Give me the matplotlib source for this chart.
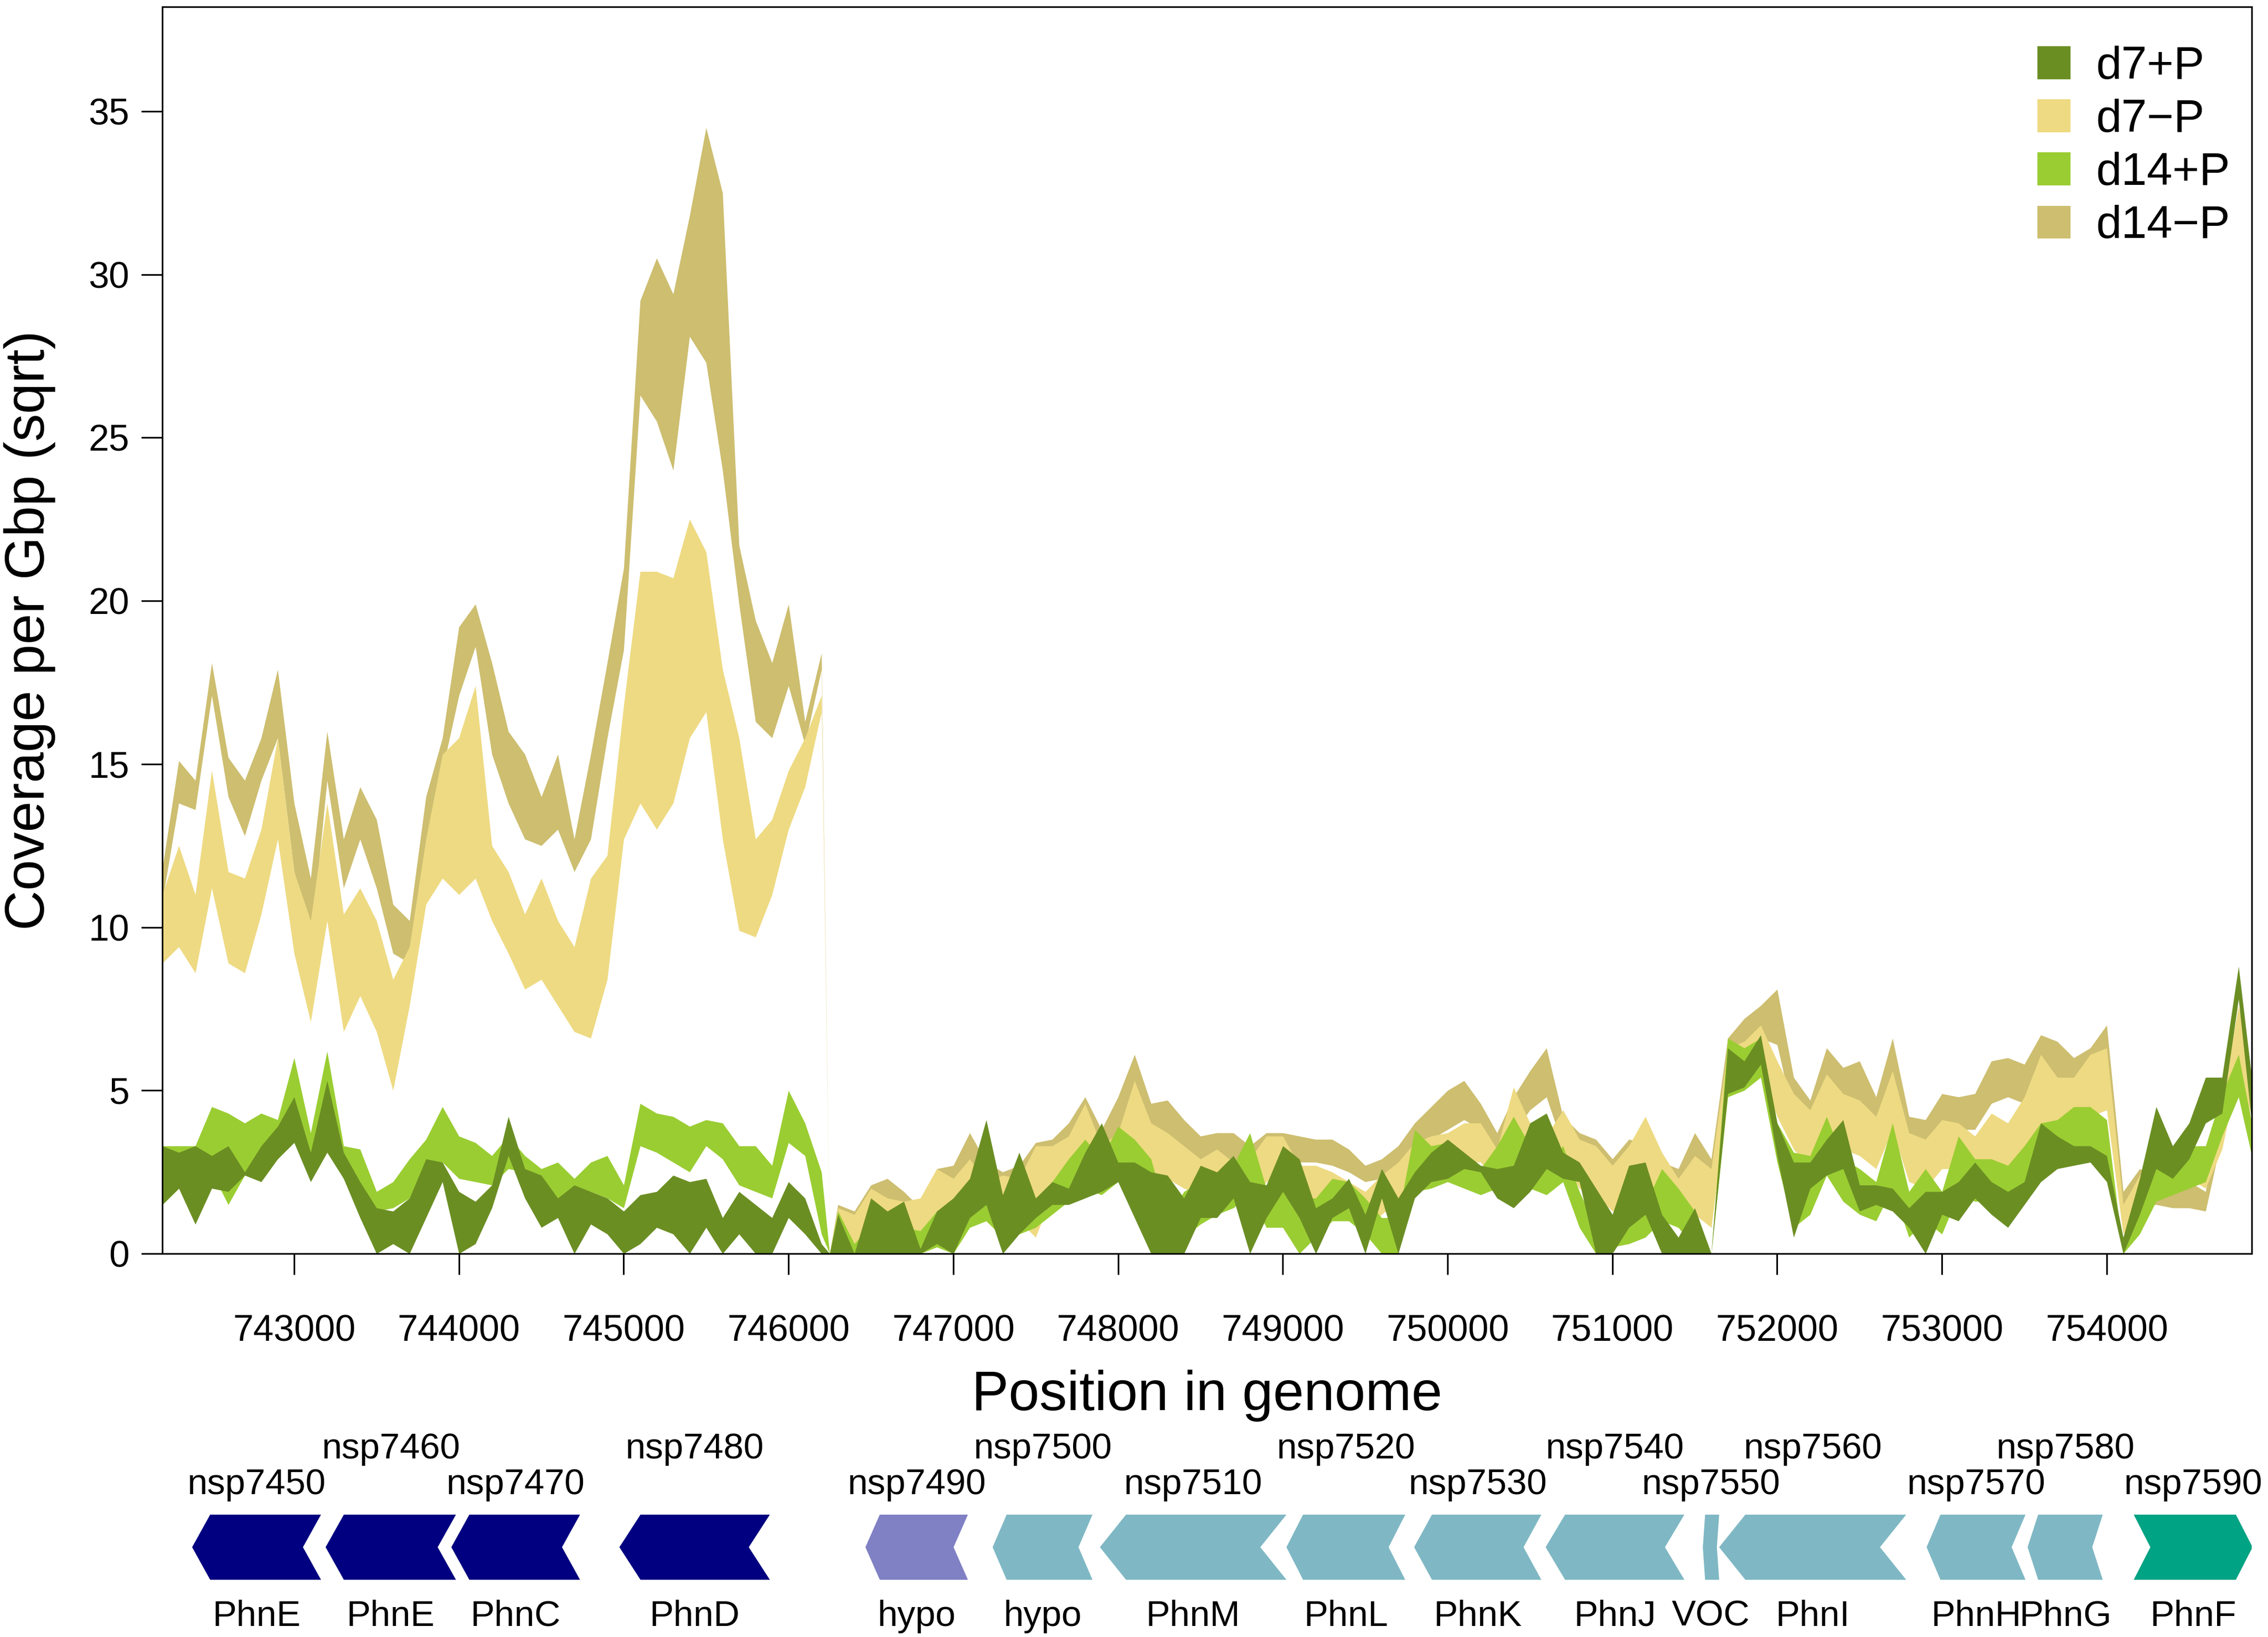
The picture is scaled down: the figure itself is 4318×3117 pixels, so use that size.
import numpy as np
import matplotlib
matplotlib.use("Agg")
from matplotlib import pyplot as plt
from matplotlib.patches import Patch, Polygon

plt.rcParams['font.family'] = ['Liberation Sans', 'DejaVu Sans']

# genome positions sampled every 100 bp (extra point where coverage drops out)
positions = np.concatenate([np.arange(742200, 746201, 100), [746250],
                            np.arange(746300, 754801, 100), [754880]])

# d14-P band (upper / lower)
d14m_hi = [11.8, 15.1, 14.5, 18.1, 15.2, 14.5, 15.8, 17.9, 13.8, 11.5, 16.0, 12.7, 14.3, 13.3, 10.7, 10.2,
           14.0, 15.8, 19.2, 19.9, 18.1, 16.0, 15.3, 14.0, 15.3, 12.7, 15.3, 18.1, 21.0, 29.2, 30.5, 29.4,
           31.8, 34.5, 32.5, 21.7, 19.4, 18.1, 19.9, 16.3, 18.4,
           0.0,
           1.5, 1.3, 2.1, 2.3, 1.9, 1.4, 2.6, 2.7, 3.7, 2.8, 2.5, 2.7, 3.4, 3.5, 4.0, 4.8, 3.8, 4.8, 6.1, 4.6,
           4.7, 4.1, 3.6, 3.7, 3.7, 3.3, 3.7, 3.7, 3.6, 3.5, 3.5, 3.2, 2.7, 2.9, 3.3, 4.0, 4.5, 5.0, 5.3, 4.6,
           3.7, 4.8,
           5.6, 6.3, 4.2, 3.7, 3.5, 2.9, 3.5, 3.4, 2.8, 2.6, 3.7, 2.9, 6.6, 7.2, 7.6, 8.1, 5.4, 4.7, 6.3, 5.7,
           5.9, 4.8, 6.6, 4.2, 4.1, 4.9, 4.8, 4.9, 5.9, 6.0, 5.8, 6.7, 6.5, 6.0, 6.3, 7.0, 1.9, 2.6, 2.4, 2.1,
           2.2, 1.9, 4.7, 6.2,
           4.0]
d14m_lo = [10.8, 13.8, 13.6, 17.1, 14.0, 12.8, 14.5, 15.8, 11.7, 9.4, 14.5, 11.2, 12.7, 11.2, 9.2, 8.9,
           11.2, 14.8, 17.1, 18.6, 15.3, 13.8, 12.7, 12.5, 13.0, 11.7, 12.7, 15.8, 18.5, 26.3, 25.5, 24.0,
           28.1, 27.3, 24.0, 19.9, 16.3, 15.8, 17.4, 15.6, 17.9,
           0.0,
           0.8, 0.6, 1.2, 1.4, 1.2, 0.8, 1.8, 1.9, 2.6, 2.0, 1.8, 2.0, 2.5, 2.6, 3.2, 3.8, 3.0, 3.6, 4.8, 3.6,
           3.5, 3.0, 2.8, 2.7, 2.8, 2.6, 2.8, 2.9, 2.8, 2.8, 2.7, 2.5, 2.2, 2.3, 2.6, 3.2, 3.5, 3.8, 4.1, 3.8,
           3.0, 3.7,
           4.4, 4.8, 3.3, 2.9, 2.6, 2.2, 2.5, 2.6, 2.0, 1.8, 2.6, 2.0, 5.6, 6.2, 6.6, 6.4, 4.2, 3.6, 5.0, 4.6,
           4.6, 3.8, 5.4, 3.3, 3.2, 3.8, 3.8, 3.8, 4.6, 4.8, 4.6, 5.6, 5.4, 4.8, 5.0, 5.6, 1.2, 1.5, 1.5, 1.4,
           1.4, 1.3, 3.6, 5.0,
           3.2]

# d7-P band
d7m_hi = [11.0, 12.5, 11.0, 14.8, 11.7, 11.5, 13.0, 15.8, 11.7, 10.2, 13.8, 10.4, 11.2, 10.2, 8.4, 9.4,
          12.7, 15.3, 15.8, 17.4, 12.5, 11.7, 10.4, 11.5, 10.2, 9.4, 11.5, 12.2, 16.8, 20.9, 20.9, 20.7,
          22.5, 21.5, 17.9, 15.8, 12.7, 13.3, 14.8, 15.8, 17.1,
          0.0,
          1.4, 1.2, 2.0, 1.7, 1.6, 1.7, 2.6, 2.3, 2.9, 2.2, 2.4, 2.3, 3.3, 3.3, 3.6, 4.6, 3.3, 3.7, 5.3, 4.0,
          3.7, 3.3, 2.9, 3.2, 2.8, 2.9, 3.6, 3.6, 2.7, 2.7, 2.5, 2.2, 1.9, 2.4, 2.8, 3.4, 3.6, 3.7, 4.0, 4.0,
          3.2, 5.1,
          4.0, 3.6, 4.4, 3.5, 3.3, 2.7, 3.3, 4.2, 3.1, 2.3, 3.0, 2.6, 6.3, 6.5, 7.0, 5.9, 4.9, 4.4, 5.5, 4.9,
          4.7, 4.2, 5.6, 3.7, 3.5, 4.1, 4.0, 3.6, 4.3, 4.0, 4.8, 6.1, 5.4, 5.4, 6.1, 6.3, 1.5, 2.4, 2.9, 3.3,
          3.1, 2.9, 4.7, 7.6,
          5.4]
d7m_lo = [8.9, 9.4, 8.6, 11.2, 8.9, 8.6, 10.4, 12.7, 9.2, 7.1, 10.2, 6.8, 7.9, 6.8, 5.0, 7.6,
          10.7, 11.5, 11.0, 11.5, 10.2, 9.2, 8.1, 8.4, 7.6, 6.8, 6.6, 8.4, 12.7, 13.8, 13.0, 13.8,
          15.8, 16.6, 12.7, 9.9, 9.7, 11.0, 13.0, 14.3, 16.6,
          0.0,
          0.3, 0.2, 0.8, 0.7, 0.6, 0.7, 1.3, 1.2, 1.6, 1.2, 1.2, 1.0, 0.5, 1.8, 2.2, 2.8, 2.2, 2.5, 3.0, 2.5,
          2.3, 2.0, 1.8, 2.0, 1.6, 1.5, 2.2, 2.4, 1.7, 1.5, 1.4, 1.2, 0.8, 1.2, 1.6, 2.2, 2.4, 2.5, 2.8, 2.8,
          2.2, 2.8,
          3.0, 2.5, 2.8, 2.0, 1.8, 1.3, 1.5, 1.8, 1.2, 0.8, 1.2, 0.8, 4.8, 5.2, 5.6, 4.2, 3.2, 2.6, 3.6, 3.2,
          3.0, 2.6, 3.8, 2.2, 2.0, 2.6, 2.6, 2.2, 2.8, 2.6, 3.2, 4.0, 3.8, 3.6, 4.2, 4.4, 0.6, 1.2, 2.2, 2.4,
          2.3, 2.0, 3.2, 5.6,
          4.2]

# d14+P band
d14p_hi = [3.3, 3.3, 3.3, 4.5, 4.3, 4.0, 4.3, 4.1, 6.0, 3.7, 6.2, 3.3, 3.2, 1.9, 2.2, 2.9,
           3.5, 4.5, 3.6, 3.4, 3.0, 3.6, 3.0, 2.6, 2.8, 2.3, 2.8, 3.0, 2.1, 4.6, 4.3, 4.2,
           3.9, 4.1, 4.0, 3.3, 3.3, 2.7, 5.0, 4.0, 2.5,
           0.0,
           1.3, 0.3, 0.9, 1.0, 0.8, 0.7, 1.3, 1.3, 1.7, 1.9, 1.7, 1.4, 1.6, 2.2, 2.9, 3.5, 2.9, 3.9, 3.5, 2.9,
           1.1, 1.9, 2.2, 2.5, 2.7, 3.7, 2.0, 1.9, 1.7, 1.7, 2.3, 2.2, 1.7, 1.1, 1.1, 3.8, 3.3, 3.4, 3.0, 2.6,
           3.3, 4.2,
           3.3, 2.7, 3.3, 1.9, 0.8, 1.2, 1.2, 1.5, 2.6, 2.0, 1.3, 0.0, 6.6, 6.3, 6.6, 4.0, 3.1, 3.0, 4.2, 2.9,
           2.6, 2.2, 4.0, 1.9, 2.6, 1.9, 3.6, 2.9, 2.9, 2.7, 3.3, 4.0, 4.1, 4.5, 4.5, 4.1, 0.0, 1.9, 2.8, 2.9,
           3.3, 3.3, 4.9, 6.1,
           4.0]
d14p_lo = [1.5, 2.0, 2.2, 2.5, 1.5, 2.4, 2.7, 2.9, 3.5, 3.0, 4.5, 2.3, 2.0, 1.3, 1.4, 1.7,
           2.2, 2.8, 2.3, 2.2, 2.1, 2.6, 2.5, 1.7, 1.5, 1.4, 1.9, 1.7, 1.4, 3.3, 3.1, 2.8,
           2.5, 3.3, 2.9, 2.1, 1.9, 1.7, 3.4, 3.0, 0.6,
           0.0,
           0.0, 0.0, 0.0, 0.0, 0.0, 0.0, 0.2, 0.0, 0.8, 1.0, 0.5, 0.6, 0.8, 1.2, 1.6, 2.0, 1.8, 2.2, 2.0, 1.5,
           0.0, 0.5, 0.9, 1.2, 1.4, 1.8, 0.8, 0.8, 0.0, 0.5, 1.0, 1.0, 0.6, 0.0, 0.0, 1.9, 2.0, 2.2, 2.0, 1.8,
           2.0, 2.2,
           2.0, 1.8, 2.2, 0.8, 0.0, 0.2, 0.3, 0.5, 1.0, 0.8, 0.2, 0.0, 4.8, 5.0, 5.4, 2.8, 0.8, 1.2, 2.4, 1.6,
           1.2, 1.0, 2.0, 0.5, 1.0, 0.6, 1.8, 1.6, 1.6, 1.4, 2.0, 2.6, 2.8, 3.0, 3.2, 2.8, 0.0, 0.6, 1.6, 1.8,
           2.0, 2.2, 3.6, 4.8,
           3.0]

# d7+P band
d7p_hi = [3.3, 3.1, 3.3, 3.0, 3.3, 2.5, 3.3, 3.9, 4.8, 3.1, 5.3, 3.1, 2.2, 1.4, 1.3, 1.7,
          2.9, 2.8, 1.9, 1.6, 2.1, 4.2, 2.6, 2.4, 1.7, 2.1, 1.9, 1.7, 1.3, 1.8, 1.9, 2.4,
          2.2, 2.3, 1.1, 1.9, 1.5, 1.1, 2.2, 1.7, 0.3,
          0.0,
          1.2, 0.0, 1.7, 1.3, 1.6, 0.15, 1.3, 1.7, 2.3, 4.1, 1.8, 3.1, 1.7, 2.2, 2.0, 3.1, 4.0, 2.8, 2.8, 2.5,
          2.4, 1.7, 2.7, 2.5, 3.0, 2.2, 2.1, 3.3, 2.9, 1.4, 1.7, 2.3, 1.2, 2.6, 1.7, 2.5, 3.1, 3.5, 3.1, 2.7,
          2.6, 2.7,
          4.0, 4.3, 3.1, 2.8, 2.0, 1.2, 2.7, 2.8, 1.2, 0.5, 1.4, 0.0, 6.3, 5.9, 6.7, 4.0, 2.8, 2.8, 3.5, 4.1,
          2.1, 2.1, 2.0, 1.4, 1.9, 1.9, 2.2, 2.8, 2.2, 1.9, 2.2, 4.0, 3.6, 3.3, 3.3, 3.0, 0.5, 2.3, 4.5, 3.3,
          4.0, 5.4, 5.4, 8.8,
          5.4]
d7p_lo = [1.5, 2.0, 0.9, 2.0, 1.9, 2.4, 2.2, 2.9, 3.4, 2.2, 3.1, 2.3, 1.1, 0.0, 0.3, 0.0,
          1.1, 2.2, 0.0, 0.3, 1.4, 3.0, 1.7, 0.8, 1.1, 0.0, 0.9, 0.6, 0.0, 0.3, 0.8, 0.6,
          0.0, 0.8, 0.0, 0.6, 0.0, 0.0, 1.1, 0.6, 0.0,
          0.0,
          0.0, 0.0, 0.0, 0.0, 0.0, 0.0, 0.3, 0.0, 1.1, 1.5, 0.0, 0.6, 1.1, 1.5, 1.5, 1.7, 1.9, 2.2, 1.1, 0.0,
          0.0, 0.0, 1.1, 1.1, 1.7, 0.0, 1.1, 1.9, 1.1, 0.0, 1.1, 1.4, 0.0, 1.7, 0.0, 1.7, 2.2, 2.3, 2.6, 2.5,
          1.7, 1.4,
          1.9, 2.6, 2.3, 2.2, 0.0, 0.0, 0.8, 1.2, 0.0, 0.0, 0.0, 0.0, 4.9, 5.1, 5.8, 3.0, 0.5, 2.0, 2.4, 2.6,
          1.3, 1.5, 1.3, 0.8, 0.0, 1.2, 1.0, 1.7, 1.2, 0.8, 1.5, 2.2, 2.6, 2.7, 2.8, 2.2, 0.0, 1.2, 2.6, 2.3,
          2.9, 4.0, 4.3, 7.8,
          4.0]

series_names = ['d7+P', 'd7\u2212P', 'd14+P', 'd14\u2212P']
series_colors = ['#6B8E23', '#EEDA82', '#9ACD32', '#CDBE70']

# genes in the region
gene_ids = ['nsp7450', 'nsp7460', 'nsp7470', 'nsp7480', 'nsp7490', 'nsp7500', 'nsp7510', 'nsp7520',
            'nsp7530', 'nsp7540', 'nsp7550', 'nsp7560', 'nsp7570', 'nsp7580', 'nsp7590']
gene_names = ['PhnE', 'PhnE', 'PhnC', 'PhnD', 'hypo', 'hypo', 'PhnM', 'PhnL',
              'PhnK', 'PhnJ', 'VOC', 'PhnI', 'PhnH', 'PhnG', 'PhnF']
gene_start = [742381, 743191, 743954, 744974, 746467, 747239, 747890, 749022,
              749797, 750595, 751549, 751648, 752907, 753520, 754164]
gene_end = [743163, 743982, 744735, 745887, 747089, 747845, 749022, 749743,
            750569, 751437, 751648, 752783, 753507, 753976, 754885]
gene_strand = [-1, -1, -1, -1, -1, -1, -1, -1, -1, -1, -1, -1, -1, -1, 1]
gene_colors = ['#000080'] * 4 + ['#8080C4'] + ['#7FB8C4'] * 9 + ['#00A383']

W, H = 4318, 3117
fig = plt.figure(figsize=(W / 300, H / 300), dpi=300)
ax_l, ax_r, ax_t, ax_b = 309, 4287, 13, 2387
ax = fig.add_axes([ax_l / W, 1 - ax_b / H, (ax_r - ax_l) / W, (ax_b - ax_t) / H])

x = np.array(positions)
bands = [(d7p_lo, d7p_hi), (d7m_lo, d7m_hi), (d14p_lo, d14p_hi), (d14m_lo, d14m_hi)]
# draw order: d14-P, d7-P, d14+P, d7+P (last on top)
for i in [3, 1, 2, 0]:
    lo, hi = bands[i]
    ax.fill_between(x, lo, hi, color=series_colors[i], linewidth=0)

ax.set_xlim(742200, 754880)
ax.set_ylim(0, 38.2)
ax.set_xticks(np.arange(743000, 754001, 1000))
ax.set_yticks(np.arange(0, 36, 5))
ax.ticklabel_format(axis='x', style='plain', useOffset=False)
ax.tick_params(axis='both', direction='out', length=9.6, width=0.75, labelsize=16.8)
ax.tick_params(axis='x', pad=18)
ax.tick_params(axis='y', pad=5.5)
for s in ax.spines.values():
    s.set_linewidth(0.75)

ax.set_xlabel('Position in genome', fontsize=25.3)
ax.xaxis.set_label_coords(0.5, -0.093)
ax.set_ylabel('Coverage per Gbp (sqrt)', fontsize=25.3)
ax.yaxis.set_label_coords(-0.051, 0.5)

handles = [Patch(facecolor=c, edgecolor='none') for c in series_colors]
ax.legend(handles, series_names, loc='upper left', bbox_to_anchor=(3879 / W, 1 - 87 / H),
          bbox_transform=fig.transFigure, frameon=False, fontsize=21, handlelength=0.72,
          handleheight=0.72, handletextpad=0.55, labelspacing=0.23, borderpad=0, borderaxespad=0)

# gene track
gtop = 2700
gax = fig.add_axes([ax_l / W, 0, (ax_r - ax_l) / W, (H - gtop) / H])
gax.set_xlim(742200, 754880)
gax.set_ylim(0, H - gtop)
gax.axis('off')

y_bot, y_top = 109, 233
y_mid = (y_bot + y_top) / 2
for k in range(len(gene_ids)):
    a, b = gene_start[k], gene_end[k]
    h = 0.14 * (b - a)
    if gene_strand[k] < 0:
        pts = [(a, y_mid), (a + h, y_top), (b, y_top), (b - h, y_mid), (b, y_bot), (a + h, y_bot)]
    else:
        pts = [(a, y_top), (b - h, y_top), (b, y_mid), (b - h, y_bot), (a, y_bot), (a + h, y_mid)]
    gax.add_patch(Polygon(pts, closed=True, facecolor=gene_colors[k], edgecolor='none'))
    xc = (a + b) / 2
    row_y = 272 if k % 2 == 0 else 340
    gax.text(xc, row_y, gene_ids[k], ha='center', va='baseline', fontsize=16.5, clip_on=False)
    gax.text(xc, 21, gene_names[k], ha='center', va='baseline', fontsize=16.5, clip_on=False)

fig.savefig('out.png', dpi=300)
